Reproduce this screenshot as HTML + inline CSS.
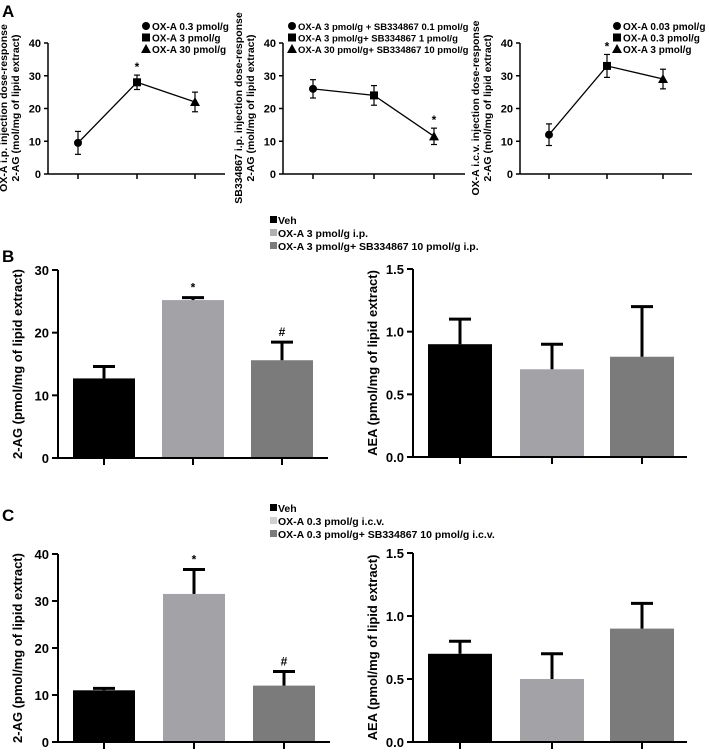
<!DOCTYPE html><html><head><style>body{margin:0;background:#fff}svg{display:block;font-family:"Liberation Sans",Arial,sans-serif;font-weight:bold}</style></head><body>
<svg id="s" width="709" height="752" xmlns="http://www.w3.org/2000/svg"></svg>
<script>
const s=document.getElementById('s');let h='';
const t=(x,y,txt,sz,anc='start',extra='')=>h+=`<text x="${x}" y="${y}" font-size="${sz}" text-anchor="${anc}" ${extra}>${txt}</text>`;
const l=(x1,y1,x2,y2,w=1.5)=>h+=`<line x1="${x1}" y1="${y1}" x2="${x2}" y2="${y2}" stroke="#000" stroke-width="${w}"/>`;
t(2,17,'A',17);t(2,262,'B',17);t(2,521,'C',17);
function mark(x,y,k){if(k==0)h+=`<circle cx="${x}" cy="${y}" r="4"/>`;else if(k==1)h+=`<rect x="${x-4}" y="${y-4}" width="8" height="8"/>`;else h+=`<polygon points="${x},${y-5} ${x-5},${y+4} ${x+5},${y+4}"/>`;}
function lineP(ax,xend,ticks,vals,errs,star,leg,lx,lab1,lab2,fs){
 const y0=174,y40=43,sc=(y0-y40)/40;const Y=v=>y0-v*sc;
 l(ax,y40,ax,y0);l(ax,y0,xend,y0);
 for(let v=0;v<=40;v+=10){l(ax-4,Y(v),ax,Y(v));t(ax-7,Y(v)+4,v,11,'end');}
 ticks.forEach(x=>l(x,y0,x,y0+5));
 h+=`<polyline points="${ticks.map((x,i)=>x+','+Y(vals[i])).join(' ')}" fill="none" stroke="#000" stroke-width="1.3"/>`;
 ticks.forEach((x,i)=>{const a=Y(vals[i]+errs[i]),b=Y(vals[i]-errs[i]);l(x,a,x,b,1.2);l(x-3,a,x+3,a,1.2);l(x-3,b,x+3,b,1.2);mark(x,Y(vals[i]),i);});
 t(ticks[star],Y(vals[star]+errs[star])-4,'*',12,'middle');
 leg.forEach((g,i)=>{mark(lx+4,26+i*11.5,i);t(lx+10,30+i*11.5,g,fs);});
 const cx=ax-35;h+=`<g transform="translate(${cx},108) rotate(-90)"><text x="0" y="-6" font-size="10.5" text-anchor="middle">${lab1}</text><text x="0" y="6" font-size="10.5" text-anchor="middle">${lab2}</text></g>`;
}
lineP(48,225,[78,137,195],[9.5,28,22],[3.5,2.2,3],1,['OX-A 0.3 pmol/g','OX-A 3 pmol/g','OX-A 30 pmol/g'],142,'OX-A i.p. injection dose-response','2-AG (mol/mg of lipid extract)',10);
lineP(283,465,[313,374,434],[26,24,11.5],[2.8,3,2.5],2,['OX-A 3 pmol/g + SB334867 0.1 pmol/g','OX-A 3 pmol/g+ SB334867 1 pmol/g','OX-A 30 pmol/g+ SB334867 10 pmol/g'],288,'SB334867 i.p. injection dose-response','2-AG (mol/mg of lipid extract)',9.5);
lineP(520,692,[549,607,663],[12,33,29],[3.3,3.5,3],1,['OX-A 0.03 pmol/g','OX-A 0.3 pmol/g','OX-A 3 pmol/g'],613,'OX-A i.c.v. injection dose-response','2-AG (mol/mg of lipid extract)',10);
const cols=['#000','#a3a3a7','#7b7b7b'];
function bars(ax,xend,top,y0,max,step,dec,bx,bw,vals,errs,marks,lab){
 const sc=(y0-top)/max,Y=v=>y0-v*sc;
 vals.forEach((v,i)=>{const x=bx[i];h+=`<rect x="${x}" y="${Y(v)}" width="${bw}" height="${y0-Y(v)}" fill="${cols[i]}"/>`;const c=x+bw/2,e=Y(v+errs[i]);l(c,Y(v),c,e,3);l(c-11,e,c+11,e,3);if(marks[i])t(c,e-6,marks[i],12,'middle');});
 l(ax,top,ax,y0,2);l(ax,y0,xend,y0,2);
 for(let v=0;v<=max+1e-9;v+=step){l(ax-6,Y(v),ax,Y(v),2);t(ax-9,Y(v)+5,v.toFixed(dec),13,'end');}
 bx.forEach(x=>l(x+bw/2,y0,x+bw/2,y0+7,2));
 h+=`<text transform="translate(${ax-36},${(top+y0)/2}) rotate(-90)" font-size="13" text-anchor="middle">${lab}</text>`;
}
function legend(y,labs,c2){[cols[0],c2,cols[2]].forEach((c,i)=>{h+=`<rect x="270" y="${y+i*13-8}" width="7" height="7" fill="${c}"/>`;t(278,y+i*13,labs[i],10.5);});}
legend(224,['Veh','OX-A 3 pmol/g i.p.','OX-A 3 pmol/g+ SB334867 10 pmol/g i.p.'],'#b0b0b4');
bars(58,328,270,458,30,10,0,[73,162,251],62,[12.7,25.2,15.6],[1.9,0.4,2.9],['','*','#'],'2-AG (pmol/mg of lipid extract)');
bars(413,687,269,457,1.5,0.5,1,[428,520,610],64,[0.9,0.7,0.8],[0.2,0.2,0.4],['','',''],'AEA (pmol/mg of lipid extract)');
legend(512,['Veh','OX-A 0.3 pmol/g i.c.v.','OX-A 0.3 pmol/g+ SB334867 10 pmol/g i.c.v.'],'#cfcfd2');
bars(58,330,554,742,40,10,0,[73,163,253],62,[11,31.5,12],[0.4,5.2,3],['','*','#'],'2-AG (pmol/mg of lipid extract)');
bars(413,687,553,742,1.5,0.5,1,[428,520,610],64,[0.7,0.5,0.9],[0.1,0.2,0.2],['','',''],'AEA (pmol/mg of lipid extract)');
s.innerHTML=h;
</script></body></html>
